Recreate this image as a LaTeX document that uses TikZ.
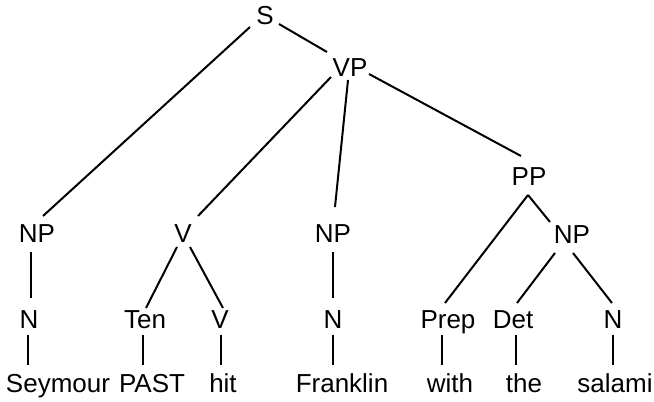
\documentclass[tikz,border=0pt]{standalone}
\usepackage{fontspec}
\setmainfont{Liberation Sans}
\begin{document}
\begin{tikzpicture}[x=0.75pt,y=-0.75pt,
  lbl/.style={inner sep=0pt, outer sep=0pt, font=\fontsize{19.5}{22}\selectfont, text height=14pt, text depth=0pt},
  br/.style={line width=1.5pt, line cap=butt}]
\useasboundingbox (0,0) rectangle (654,402);
% categories
\node[lbl] (S)   at (265,15)  {S};
\node[lbl] (VP)  at (350,67)  {VP};
\node[lbl] (NPa) at (37,233)  {NP};
\node[lbl] (Va)  at (183,233) {V};
\node[lbl] (NPb) at (333,233) {NP};
\node[lbl] (PP)  at (529,176) {PP};
\node[lbl] (NPc) at (572,234) {NP};
\node[lbl] (Na)  at (29,319)  {N};
\node[lbl] (Ten) at (145,319) {Ten};
\node[lbl] (Vb)  at (220,319) {V};
\node[lbl] (Nb)  at (333,319) {N};
\node[lbl] (Prep) at (448,319) {Prep};
\node[lbl] (Det) at (513,319) {Det};
\node[lbl] (Nc)  at (613,319) {N};
% words
\node[lbl] (w1) at (58,383)  {Seymour};
\node[lbl] (w2) at (152,383) {PAST};
\node[lbl] (w3) at (223,383) {hit};
\node[lbl] (w4) at (342,383) {Franklin};
\node[lbl] (w5) at (450,383) {with};
\node[lbl] (w6) at (524,383) {the};
\node[lbl] (w7) at (615,383) {salami};
% branches
\draw[br] ([shift={(-15,12)}]S.center) -- ([shift={(6,-17)}]NPa.center);
\draw[br] ([shift={(14,9)}]S.center) -- ([shift={(-23,-15)}]VP.center);
\draw[br] ([shift={(-19,10)}]VP.center) -- ([shift={(15,-17)}]Va.center);
\draw[br] ([shift={(-2,13)}]VP.center) -- ([shift={(2,-26)}]NPb.center);
\draw[br] ([shift={(19,7)}]VP.center) -- ([shift={(-8,-20)}]PP.center);
\draw[br] ([shift={(-6,19)}]NPa.center) -- ([shift={(2,-21)}]Na.center);
\draw[br] ([shift={(-6,14)}]Va.center) -- ([shift={(1,-11)}]Ten.center);
\draw[br] ([shift={(7,14)}]Va.center) -- ([shift={(3,-11)}]Vb.center);
\draw[br] ([shift={(0,19)}]NPb.center) -- ([shift={(0,-21)}]Nb.center);
\draw[br] ([shift={(-1,19)}]PP.center) -- ([shift={(-3,-16)}]Prep.center);
\draw[br] ([shift={(-1,19)}]PP.center) -- ([shift={(-22,-12)}]NPc.center);
\draw[br] ([shift={(-17,19)}]NPc.center) -- ([shift={(4,-16)}]Det.center);
\draw[br] ([shift={(1,19)}]NPc.center) -- ([shift={(-1,-16)}]Nc.center);
\draw[br] ([shift={(-1,16)}]Na.center) -- ([shift={(-30,-18)}]w1.center);
\draw[br] ([shift={(-2,16)}]Ten.center) -- ([shift={(-9,-18)}]w2.center);
\draw[br] ([shift={(1,16)}]Vb.center) -- ([shift={(-2,-18)}]w3.center);
\draw[br] ([shift={(0,16)}]Nb.center) -- ([shift={(-9,-18)}]w4.center);
\draw[br] ([shift={(-6,16)}]Prep.center) -- ([shift={(-8,-18)}]w5.center);
\draw[br] ([shift={(3,16)}]Det.center) -- ([shift={(-8,-18)}]w6.center);
\draw[br] ([shift={(0,16)}]Nc.center) -- ([shift={(-2,-18)}]w7.center);
\end{tikzpicture}
\end{document}
